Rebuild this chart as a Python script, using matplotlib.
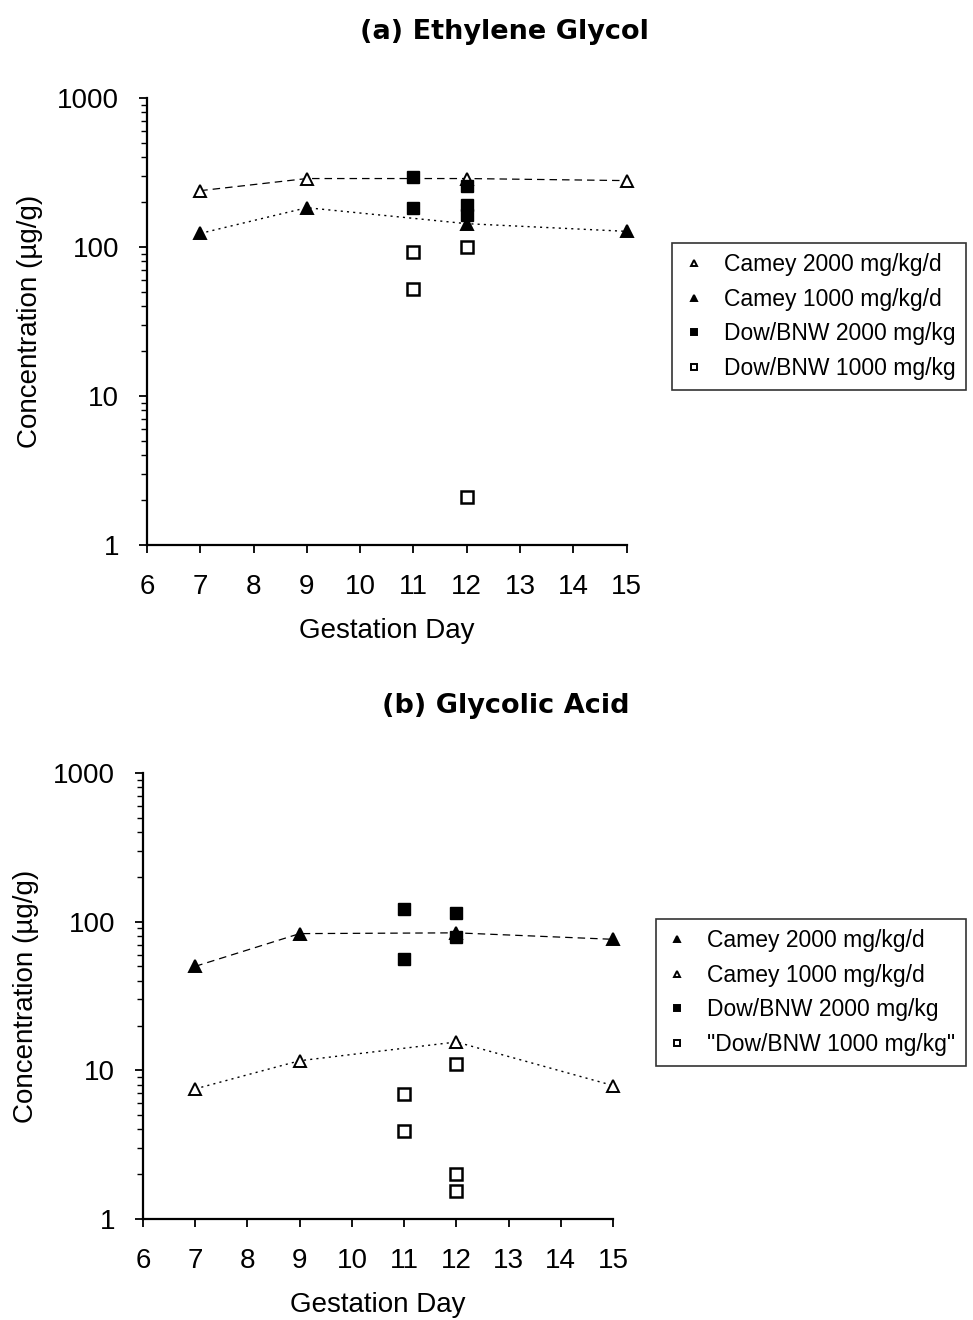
import numpy as np
import matplotlib
matplotlib.use("Agg")
import matplotlib.pyplot as plt
from matplotlib.ticker import LogLocator, FixedLocator, NullFormatter

plt.rcParams["font.family"] = ["Liberation Sans", "DejaVu Sans"]

# ----------------------------------------------------------------------
# (a) Ethylene glycol, ug/g
# ----------------------------------------------------------------------
eg_carney_days = [7, 9, 12, 15]
eg_carney_2000 = [238, 287, 287, 278]
eg_carney_1000 = [123, 183, 143, 127]
eg_dow2000_days = [11, 11, 12, 12, 12]
eg_dow2000_vals = [296, 183, 254, 192, 163]
eg_dow1000_days = [11, 11, 12, 12]
eg_dow1000_vals = [93, 52.5, 99, 2.1]

# ----------------------------------------------------------------------
# (b) Glycolic acid, ug/g
# ----------------------------------------------------------------------
ga_carney_days = [7, 9, 12, 15]
ga_carney_2000 = [50, 83, 84, 76]
ga_carney_1000 = [7.5, 11.6, 15.5, 7.9]
ga_dow2000_days = [11, 11, 12, 12]
ga_dow2000_vals = [122, 56, 114, 79]
ga_dow1000_days = [11, 11, 12, 12, 12]
ga_dow1000_vals = [6.9, 3.9, 11, 2.0, 1.55]

x_ticks = list(range(6, 16))
y_ticks = [1, 10, 100, 1000]


def style_axes(ax):
    ax.set_yscale("log")
    ax.set_xlim(6, 15)
    ax.set_ylim(1, 1000)
    ax.spines["top"].set_visible(False)
    ax.spines["right"].set_visible(False)
    ax.spines["left"].set_linewidth(1.6)
    ax.spines["bottom"].set_linewidth(1.6)
    ax.xaxis.set_major_locator(FixedLocator(x_ticks))
    ax.yaxis.set_major_locator(FixedLocator(y_ticks))
    ax.set_yticklabels([str(v) for v in y_ticks])
    ax.yaxis.set_minor_locator(LogLocator(base=10, subs=np.arange(2, 10)))
    ax.yaxis.set_minor_formatter(NullFormatter())
    ax.tick_params(axis="both", which="major", labelsize=20, direction="out",
                   length=6, width=1.3, color="black")
    ax.tick_params(axis="y", which="minor", direction="out", length=4, width=1.0)
    ax.tick_params(axis="x", pad=15)
    ax.tick_params(axis="y", pad=14)
    ax.set_xlabel("Gestation Day", fontsize=20, labelpad=13)
    ax.set_ylabel("Concentration (\u00b5g/g)", fontsize=20, labelpad=10)


def draw_panel(ax, days, c2000, c1000, d2_days, d2_vals, d1_days, d1_vals,
               open_2000, labels):
    fill_2000 = "white" if open_2000 else "black"
    fill_1000 = "black" if open_2000 else "white"
    ax.plot(days, c2000, linestyle=(0, (6, 4)), color="black", lw=0.9,
            marker="^", ms=8, mfc=fill_2000, mec="black", mew=1.4,
            label=labels[0], clip_on=False)
    ax.plot(days, c1000, linestyle=(0, (1.5, 3)), color="black", lw=1.0,
            marker="^", ms=8, mfc=fill_1000, mec="black", mew=1.4,
            label=labels[1], clip_on=False)
    ax.plot(d2_days, d2_vals, linestyle="none", marker="s", ms=8,
            mfc="black", mec="black", label=labels[2], clip_on=False)
    ax.plot(d1_days, d1_vals, linestyle="none", marker="s", ms=8,
            mfc="white", mec="black", mew=1.8, label=labels[3], clip_on=False)


fig = plt.figure(figsize=(9.73, 13.2), dpi=100)

ax_a = fig.add_axes([0.151, 0.587, 0.493, 0.339])
draw_panel(ax_a, eg_carney_days, eg_carney_2000, eg_carney_1000,
           eg_dow2000_days, eg_dow2000_vals, eg_dow1000_days, eg_dow1000_vals,
           open_2000=True,
           labels=["Camey 2000 mg/kg/d", "Camey 1000 mg/kg/d",
                   "Dow/BNW 2000 mg/kg", "Dow/BNW 1000 mg/kg"])
style_axes(ax_a)

ax_b = fig.add_axes([0.147, 0.0765, 0.483, 0.338])
draw_panel(ax_b, ga_carney_days, ga_carney_2000, ga_carney_1000,
           ga_dow2000_days, ga_dow2000_vals, ga_dow1000_days, ga_dow1000_vals,
           open_2000=False,
           labels=["Camey 2000 mg/kg/d", "Camey 1000 mg/kg/d",
                   "Dow/BNW 2000 mg/kg", "\"Dow/BNW 1000 mg/kg\""])
style_axes(ax_b)

legend_kw = dict(loc="upper left", frameon=True, fancybox=False,
                 edgecolor="black", fontsize=16.5, handlelength=1.0,
                 handletextpad=0.8, labelspacing=0.5, borderpad=0.45,
                 markerscale=0.6)
for ax, anchor in [(ax_a, (0.679, 0.8245)), (ax_b, (0.662, 0.3125))]:
    handles, labels = ax.get_legend_handles_labels()
    handles = [plt.Line2D([], [], linestyle="none", marker=h.get_marker(),
                          ms=h.get_markersize(), mfc=h.get_markerfacecolor(),
                          mec="black", mew=1.4) for h in handles]
    leg = ax.legend(handles, labels, bbox_to_anchor=anchor,
                    bbox_transform=fig.transFigure, **legend_kw)
    leg.get_frame().set_linewidth(1.2)

fig.text(0.518, 0.976, "(a) Ethylene Glycol", ha="center", va="center",
         fontsize=19.5, fontweight="bold", family=["DejaVu Sans"])
fig.text(0.52, 0.465, "(b) Glycolic Acid", ha="center", va="center",
         fontsize=19.5, fontweight="bold", family=["DejaVu Sans"])

fig.savefig("out.png", dpi=100)
